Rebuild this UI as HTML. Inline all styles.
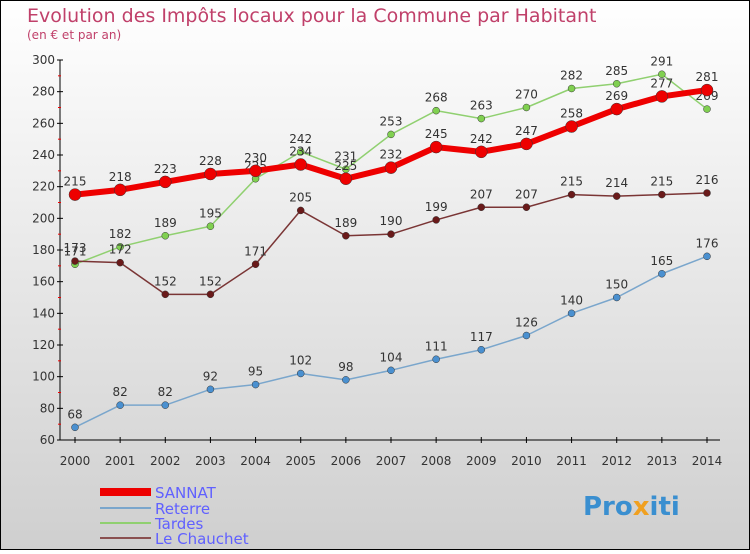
<!DOCTYPE html>
<html><head><meta charset="utf-8"><style>
body{margin:0}
#c{width:750px;height:550px;position:relative;font-family:"DejaVu Sans","Liberation Sans",sans-serif}
svg text{font-family:"DejaVu Sans","Liberation Sans",sans-serif}
</style></head><body>
<div id="c">
<svg id="s" width="750" height="550" xmlns="http://www.w3.org/2000/svg">
<defs><linearGradient id="bg" x1="0" y1="0" x2="0" y2="1"><stop offset="0" stop-color="#ffffff"/><stop offset="1" stop-color="#cfcfcf"/></linearGradient></defs>
<rect x="0.5" y="0.5" width="749" height="549" fill="url(#bg)" stroke="#000"/>
<text x="27" y="22" font-size="19" fill="#c0406a">Evolution des Impôts locaux pour la Commune par Habitant</text>
<text x="27" y="39" font-size="12" fill="#c0406a">(en € et par an)</text>
<g id="axes"></g><g id="series"></g>
<g>
<rect x="100" y="488" width="51" height="8" fill="#e00"/>
<text x="155" y="498" font-size="15" fill="#6060ff">SANNAT</text>
<line x1="100" y1="508" x2="151" y2="508" stroke="#7aa6cc" stroke-width="2"/>
<text x="155" y="514" font-size="15" fill="#6060ff">Reterre</text>
<line x1="100" y1="523" x2="151" y2="523" stroke="#90d070" stroke-width="2"/>
<text x="155" y="529" font-size="15" fill="#6060ff">Tardes</text>
<line x1="100" y1="538" x2="151" y2="538" stroke="#8a5050" stroke-width="2"/>
<text x="155" y="544" font-size="15" fill="#6060ff">Le Chauchet</text>
</g>
<text x="583" y="515" font-size="26" font-weight="bold" fill="#3a8fd0">Pro<tspan fill="#f0a020">x</tspan>iti</text>
</svg></div>
<script>
const years=[2000,2001,2002,2003,2004,2005,2006,2007,2008,2009,2010,2011,2012,2013,2014];
const yTicks=[60,80,100,120,140,160,180,200,220,240,260,280,300];
const sannat=[215,218,223,228,230,234,225,232,245,242,247,258,269,277,281];
const reterre=[68,82,82,92,95,102,98,104,111,117,126,140,150,165,176];
const tardes=[171,182,189,195,225,242,231,253,268,263,270,282,285,291,269];
const chauchet=[173,172,152,152,171,205,189,190,199,207,207,215,214,215,216];
const NS="http://www.w3.org/2000/svg";
const X=i=>75+i*(707-75)/(years.length-1);
const Y=v=>440-(v-60)*380/240;
function mk(t,a,p){const e=document.createElementNS(NS,t);for(const k in a)e.setAttribute(k,a[k]);p.appendChild(e);return e;}
const ax=document.getElementById('axes');
let l=mk('line',{x1:60,y1:60,x2:60,y2:440,stroke:'#000'},ax);


l=mk('line',{x1:60,y1:440,x2:720,y2:440,stroke:'#000'},ax);


yTicks.forEach((v,i)=>{
 mk('line',{x1:57,y1:Y(v),x2:63,y2:Y(v),stroke:'#000'},ax);
 if(i<yTicks.length-1) mk('line',{x1:58,y1:Y(v+10),x2:61,y2:Y(v+10),stroke:'#e00'},ax);
 const t=mk('text',{x:55,y:Y(v)+4,'font-size':12,'text-anchor':'end',fill:'#333'},ax);t.textContent=v;
 
 
});
years.forEach((y,i)=>{
 mk('line',{x1:X(i),y1:437,x2:X(i),y2:443,stroke:'#000'},ax);
 const t=mk('text',{x:X(i),y:465,'font-size':12,'text-anchor':'middle',fill:'#333'},ax);t.textContent=y;
 
 
});
const sg=document.getElementById('series');
function draw(name,vals,col,w,r,dot){
 const g=mk('g',{},sg);
 
 
 const pts=vals.map((v,i)=>X(i)+','+Y(v)).join(' ');
 mk('polyline',{points:pts,fill:'none',stroke:col,'stroke-width':w,'stroke-linejoin':'round'},g);
 vals.forEach((v,i)=>{
  const c=mk('circle',{cx:X(i),cy:Y(v),r:r,fill:dot,stroke:'#333','stroke-width':0.5},g);
  
  
  const t=mk('text',{x:X(i),y:Y(v)-9,'font-size':12,'text-anchor':'middle',fill:'#333'},g);t.textContent=v;
  
  
 });
}
draw('reterre',reterre,'#7aa6cc',1.5,3.5,'#4a90d0');
draw('tardes',tardes,'#90d070',1.5,3.5,'#80d050');
draw('le-chauchet',chauchet,'#7a3535',1.5,3.5,'#6a1a1a');
draw('sannat',sannat,'#e00',6,6,'#e00');
</script>
</body></html>
